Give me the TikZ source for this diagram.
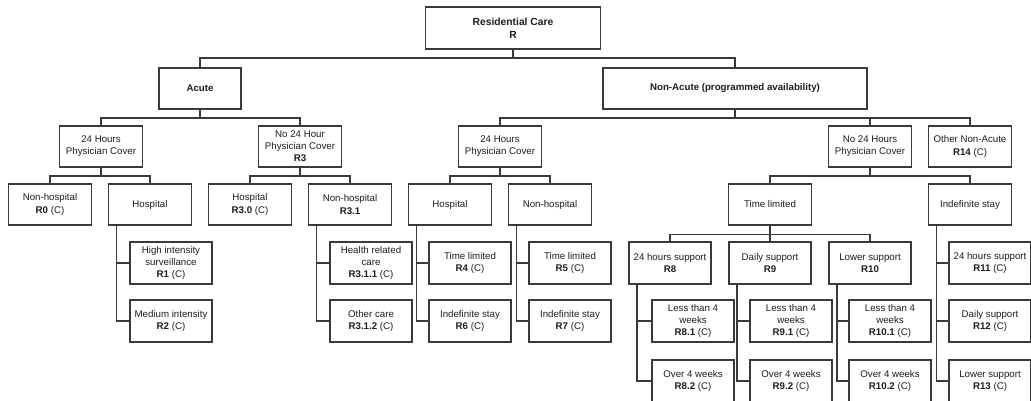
\documentclass[tikz,border=0pt]{standalone}
\usepackage{fontspec}
\setmainfont{Liberation Sans}
\definecolor{linegray}{HTML}{3A3A3A}
\definecolor{txt}{HTML}{1E1E1E}
\begin{document}
\begin{tikzpicture}[x=1pt,y=-1pt,
  box/.style={draw=linegray, line width=1.1pt, fill=white, align=center,
    inner sep=1pt, minimum width=83pt, minimum height=41pt, text=txt,
    font=\fontsize{9.7}{12.1}\selectfont},
  item/.style={box, minimum width=82pt, minimum height=42pt},
  head/.style={box, font=\bfseries\fontsize{9.7}{12.1}\selectfont},
  link/.style={draw=linegray, line width=1.1pt}]
\clip (0,0) rectangle (1031,401);
\fill[white] (0,0) rectangle (1031,401);

% root and the two main branches
\node[head, minimum width=175pt, minimum height=42pt,
  font=\bfseries\fontsize{10.3}{12.6}\selectfont] (R) at (513,28) {Residential Care\\R};
\node[head, minimum width=82pt] (AC) at (200,88.5) {Acute};
\node[head, minimum width=264pt] (NA) at (735,88.5) {Non-Acute (programmed availability)};

% physician cover level
\node[box] (A24) at (101,146.5) {24 Hours\\Physician Cover};
\node[box] (R3) at (300,146.5) {No 24 Hour\\Physician Cover\\\textbf{R3}};
\node[box] (N24) at (500,146.5) {24 Hours\\Physician Cover};
\node[box] (NNo) at (870,146.5) {No 24 Hours\\Physician Cover};
\node[box] (R14) at (970,146.5) {Other Non-Acute\\\textbf{R14} (C)};

% setting level
\node[box] (R0) at (50,204.5) {Non-hospital\\\textbf{R0} (C)};
\node[box] (AH) at (150,204.5) {Hospital};
\node[box] (R30) at (250,204.5) {Hospital\\\textbf{R3.0} (C)};
\node[box] (R31) at (350,204.5) {Non-hospital\\\textbf{R3.1}};
\node[box] (NH) at (450,204.5) {Hospital};
\node[box] (NN) at (550,204.5) {Non-hospital};
\node[box] (TL) at (770,204.5) {Time limited};
\node[box] (IS) at (970,204.5) {Indefinite stay};

% support level under time limited
\node[item] (R8) at (670,263) {24 hours support\\\textbf{R8}};
\node[item] (R9) at (770,263) {Daily support\\\textbf{R9}};
\node[item] (R10) at (870,263) {Lower support\\\textbf{R10}};

% stacked leaves, first row
\node[item] (R1) at (171,263) {High intensity\\surveillance\\\textbf{R1} (C)};
\node[item] (R311) at (371,263) {Health related\\care\\\textbf{R3.1.1} (C)};
\node[item] (R4) at (470,263) {Time limited\\\textbf{R4} (C)};
\node[item] (R5) at (570,263) {Time limited\\\textbf{R5} (C)};
\node[item] (R11) at (990,263) {24 hours support\\\textbf{R11} (C)};

% stacked leaves, second row
\node[item] (R2) at (171,321) {Medium intensity\\\textbf{R2} (C)};
\node[item] (R312) at (371,321) {Other care\\\textbf{R3.1.2} (C)};
\node[item] (R6) at (470,321) {Indefinite stay\\\textbf{R6} (C)};
\node[item] (R7) at (570,321) {Indefinite stay\\\textbf{R7} (C)};
\node[item] (R81) at (693,321) {Less than 4\\weeks\\\textbf{R8.1} (C)};
\node[item] (R91) at (791,321) {Less than 4\\weeks\\\textbf{R9.1} (C)};
\node[item] (R101) at (890,321) {Less than 4\\weeks\\\textbf{R10.1} (C)};
\node[item] (R12) at (990,321) {Daily support\\\textbf{R12} (C)};

% stacked leaves, third row
\node[item] (R82) at (693,381) {Over 4 weeks\\\textbf{R8.2} (C)};
\node[item] (R92) at (791,381) {Over 4 weeks\\\textbf{R9.2} (C)};
\node[item] (R102) at (890,381) {Over 4 weeks\\\textbf{R10.2} (C)};
\node[item] (R13) at (990,381) {Lower support\\\textbf{R13} (C)};

% tree connectors
\foreach \p/\c in {R/AC, R/NA, AC/A24, AC/R3, NA/N24, NA/NNo, NA/R14,
    A24/R0, A24/AH, R3/R30, R3/R31, N24/NH, N24/NN, NNo/TL, NNo/IS,
    TL/R8, TL/R9, TL/R10}
  \draw[link] (\p.south) -- ++(0,8.5) -| (\c.north);

% list connectors running down the left side of a parent
\foreach \p/\c in {AH/R1, AH/R2, R31/R311, R31/R312, NH/R4, NH/R6,
    NN/R5, NN/R7, R8/R81, R8/R82, R9/R91, R9/R92, R10/R101, R10/R102,
    IS/R11, IS/R12, IS/R13}
  \draw[link] ([xshift=8.5pt]\p.south west) |- (\c.west);
\end{tikzpicture}
\end{document}
